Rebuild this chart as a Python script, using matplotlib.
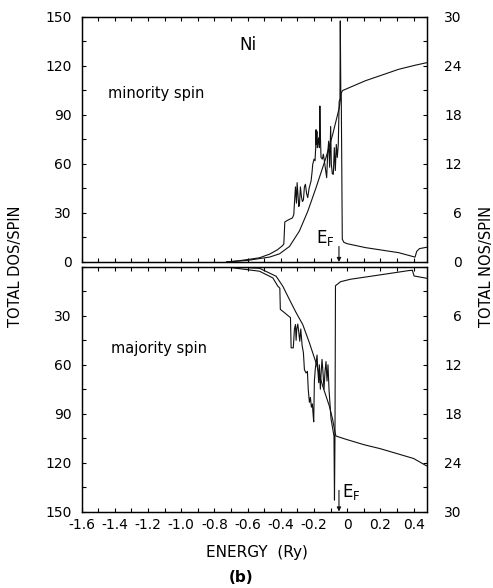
import matplotlib.pyplot as plt
from matplotlib.ticker import MultipleLocator

plt.rcParams['font.family'] = 'DejaVu Sans'
plt.rcParams['axes.unicode_minus'] = False

# ---- data (energy in Ry) ----
# minority spin, upper panel
e_dos_min = [-0.727, -0.65, -0.58, -0.528, -0.468, -0.42, -0.39, -0.382, -0.376, -0.36,
             -0.33, -0.322, -0.318, -0.312, -0.306, -0.302, -0.296, -0.292, -0.288, -0.282,
             -0.276, -0.27, -0.264, -0.258, -0.252, -0.245, -0.238, -0.23, -0.218, -0.212,
             -0.208, -0.2, -0.194, -0.19, -0.188, -0.186, -0.183, -0.18, -0.176, -0.172,
             -0.168, -0.165, -0.162, -0.158, -0.15, -0.144, -0.138, -0.13, -0.124, -0.118,
             -0.112, -0.106, -0.1, -0.096, -0.09, -0.084, -0.078, -0.072, -0.066, -0.06,
             -0.054, -0.049, -0.044, -0.042, -0.039, -0.036, -0.03, -0.02, 0.0, 0.11,
             0.31, 0.408, 0.418, 0.435, 0.477]
dos_min = [0, 0.8, 1.8, 2.6, 4.8, 7.5, 10.0, 11, 24.5, 25.5,
           27, 29, 36, 46, 36, 48.6, 40, 34, 35, 46,
           40, 37, 38, 46, 47.6, 42, 39.4, 45, 49.6, 55,
           59.8, 63, 62, 70, 81, 72, 80, 70, 74, 76,
           70, 95.5, 78, 64, 63, 66, 62, 56, 51.6, 66,
           74, 58, 83, 60, 54, 53.7, 70, 56, 72, 64,
           72, 98, 100, 147.6, 105, 100, 14, 12, 11.2, 8.8,
           5.7, 3.0, 6.5, 8.2, 9.0]
e_nos_min = [-0.727, -0.6, -0.468, -0.408, -0.348, -0.288, -0.238, -0.188, -0.128, -0.088,
             -0.048, -0.036, -0.028, 0.11, 0.31, 0.41, 0.477]
nos_min = [0, 0.2, 0.6, 1.0, 1.9, 3.8, 6.2, 9.1, 12.8, 15.6,
           18.9, 20.7, 21.0, 22.2, 23.6, 24.1, 24.4]

# majority spin, lower panel
e_dos_maj = [-0.727, -0.65, -0.528, -0.448, -0.418, -0.406, -0.403, -0.378, -0.355, -0.342,
             -0.338, -0.325, -0.318, -0.312, -0.308, -0.304, -0.298, -0.292, -0.286, -0.28,
             -0.272, -0.264, -0.258, -0.248, -0.24, -0.235, -0.228, -0.222, -0.216, -0.21,
             -0.206, -0.202, -0.198, -0.192, -0.188, -0.182, -0.178, -0.172, -0.168, -0.162,
             -0.158, -0.152, -0.146, -0.14, -0.134, -0.128, -0.122, -0.116, -0.11, -0.098,
             -0.088, -0.08, -0.077, -0.074, -0.071, -0.04, 0.02, 0.2, 0.37, 0.392,
             0.402, 0.477]
dos_maj = [0, 1.0, 2.6, 6.7, 11.8, 13, 26, 28, 30, 31,
           49.6, 49.6, 38, 35.3, 45, 38, 35, 40, 45.5, 38,
           48, 52.7, 63, 65, 64, 75, 83, 80, 86, 84,
           90, 95, 70, 62, 58.8, 54, 62, 71, 60, 75,
           66, 56.7, 65, 75, 64, 58, 70, 60, 75, 93,
           99, 103.7, 143, 104, 11.5, 9.0, 7.5, 4.8, 2.2, 2.0,
           5.5, 6.9]
e_nos_maj = [-0.727, -0.6, -0.528, -0.428, -0.388, -0.348, -0.308, -0.268, -0.228, -0.188,
             -0.148, -0.108, -0.088, -0.074, -0.068, -0.008, 0.1, 0.2, 0.3, 0.4, 0.477]
nos_maj = [0, 0.08, 0.16, 1.14, 2.36, 4.0, 5.6, 7.06, 9.3, 11.76,
           14.6, 17.06, 18.7, 20.3, 20.74, 21.14, 21.8, 22.3, 22.9, 23.5, 24.4]

e_fermi = -0.05
xticks = [-1.6, -1.4, -1.2, -1.0, -0.8, -0.6, -0.4, -0.2, 0.0, 0.2, 0.4]
xtick_labels = ['-1.6', '-1.4', '-1.2', '-1.0', '-0.8', '-0.6', '-0.4', '-0.2', '0', '0.2', '0.4']
dos_ticks = [0, 30, 60, 90, 120, 150]
nos_ticks = [0, 6, 12, 18, 24, 30]

# ---- figure ----
W, H = 493, 588
fig = plt.figure(figsize=(W / 100, H / 100), dpi=100)
lw = 0.8
col = '#111111'


def setup(ax, ax2, bottom_panel):
    ax.set_xlim(-1.6, 0.48)
    ax.set_xticks(xticks)
    ax.xaxis.set_minor_locator(MultipleLocator(0.1))
    ax.yaxis.set_minor_locator(MultipleLocator(15))
    ax2.yaxis.set_minor_locator(MultipleLocator(3))
    for a in (ax, ax2):
        a.tick_params(which='both', direction='in', length=3, width=0.8, labelsize=10)
        for s in a.spines.values():
            s.set_linewidth(0.9)
    ax.tick_params(which='both', top=True, pad=7)
    if bottom_panel:
        ax.set_ylim(150, 0)
        ax2.set_ylim(30, 0)
        ax.set_yticks(dos_ticks[1:])
        ax2.set_yticks(nos_ticks[1:])
        ax.set_xticklabels(xtick_labels)
        ax.tick_params(axis='x', pad=5)
    else:
        ax.set_ylim(0, 150)
        ax2.set_ylim(0, 30)
        ax.set_yticks(dos_ticks)
        ax2.set_yticks(nos_ticks)
        ax.set_xticklabels([])
    ax2.tick_params(axis='y', pad=25)
    for lbl in ax2.get_yticklabels():
        lbl.set_horizontalalignment('right')


left, width = 81.5 / W, 345.5 / W
ax_top = fig.add_axes([left, 1 - 262 / H, width, 245 / H])
ax_top2 = ax_top.twinx()
ax_bot = fig.add_axes([left, 1 - 511.5 / H, width, 244.5 / H])
ax_bot2 = ax_bot.twinx()

ax_top.plot(e_dos_min, dos_min, color=col, lw=lw)
ax_top2.plot(e_nos_min, nos_min, color=col, lw=lw)
ax_bot.plot(e_dos_maj, dos_maj, color=col, lw=lw)
ax_bot2.plot(e_nos_maj, nos_maj, color=col, lw=lw)

setup(ax_top, ax_top2, False)
setup(ax_bot, ax_bot2, True)

# Fermi level markers
ax_top.annotate('', xy=(e_fermi, 0), xytext=(e_fermi, 9.5),
                arrowprops=dict(arrowstyle='-|>', color=col, lw=0.8,
                                mutation_scale=6, shrinkA=0, shrinkB=0))
ax_top.text(-0.13, 8.5, 'E$_\\mathregular{F}$', fontsize=12, ha='center', va='bottom')
ax_bot.annotate('', xy=(e_fermi, 150), xytext=(e_fermi, 137),
                arrowprops=dict(arrowstyle='-|>', color=col, lw=0.8,
                                mutation_scale=6, shrinkA=0, shrinkB=0))
ax_bot.text(e_fermi + 0.02, 138, 'E$_\\mathregular{F}$', fontsize=12, ha='left', va='center')

ax_top.text(-0.6, 133, 'Ni', fontsize=12, ha='center', va='center')
ax_top.text(-1.44, 103, 'minority spin', fontsize=10.5, ha='left', va='center')
ax_bot.text(-1.42, 50, 'majority spin', fontsize=10.5, ha='left', va='center')

fig.text(16 / W, 1 - 266 / H, 'TOTAL DOS/SPIN', rotation=90, fontsize=10.5,
         ha='center', va='center')
fig.text(486 / W, 1 - 266 / H, 'TOTAL NOS/SPIN', rotation=90, fontsize=10.5,
         ha='center', va='center')
fig.text(257 / W, 1 - 552 / H, 'ENERGY  (Ry)', fontsize=11, ha='center', va='center')
fig.text(241 / W, 1 - 578 / H, '(b)', fontsize=11, fontweight='bold', ha='center', va='center')

fig.savefig('out.png', dpi=100)
